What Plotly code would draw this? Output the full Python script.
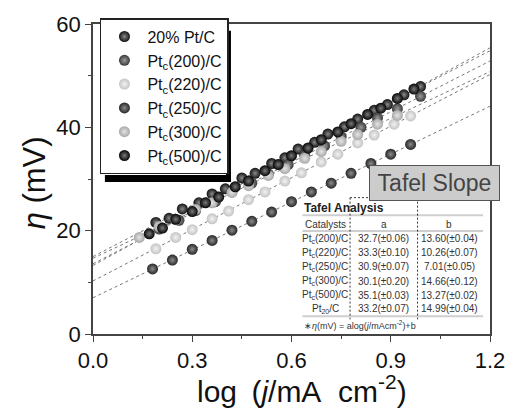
import plotly.graph_objects as go

# ---- measured overpotential vs log current density ----
x_pt20 = [0.19, 0.23, 0.27, 0.32, 0.36, 0.40, 0.45, 0.49, 0.54, 0.58, 0.62, 0.67, 0.71, 0.76, 0.80, 0.85, 0.89, 0.94, 0.99]
y_pt20 = [21.6, 22.4, 24.2, 25.4, 27.1, 28.1, 30.2, 31.1, 33.0, 34.1, 35.8, 37.1, 38.7, 40.1, 41.6, 43.3, 44.4, 46.3, 47.9]

x_200 = [0.20, 0.26, 0.31, 0.37, 0.42, 0.48, 0.53, 0.59, 0.64, 0.70, 0.75, 0.81, 0.86, 0.92, 0.99]
y_200 = [20.3, 22.0, 23.9, 25.6, 27.5, 29.2, 31.0, 32.8, 34.6, 36.4, 38.2, 40.0, 41.8, 43.6, 46.0]

x_220 = [0.19, 0.25, 0.30, 0.36, 0.41, 0.47, 0.52, 0.58, 0.63, 0.69, 0.74, 0.80, 0.85, 0.91, 0.96]
y_220 = [16.5, 18.7, 20.2, 22.3, 23.8, 26.0, 27.5, 29.6, 31.2, 33.3, 34.8, 37.0, 38.5, 40.6, 42.2]

x_250 = [0.18, 0.24, 0.30, 0.36, 0.42, 0.48, 0.54, 0.60, 0.66, 0.72, 0.78, 0.84, 0.90, 0.96]
y_250 = [12.6, 14.3, 16.4, 18.1, 20.1, 21.8, 23.6, 25.6, 27.5, 29.2, 31.1, 33.0, 34.8, 36.7]

x_300 = [0.14, 0.20, 0.25, 0.31, 0.36, 0.42, 0.47, 0.53, 0.58, 0.64, 0.69, 0.75, 0.80, 0.86, 0.92]
y_300 = [18.7, 20.8, 22.1, 24.1, 25.4, 27.4, 28.7, 30.7, 32.0, 34.0, 35.3, 37.3, 38.6, 40.6, 42.3]

x_500 = [0.17, 0.21, 0.25, 0.30, 0.34, 0.38, 0.43, 0.47, 0.52, 0.56, 0.60, 0.65, 0.69, 0.74, 0.78, 0.83, 0.87, 0.92, 0.97]
y_500 = [19.4, 20.5, 22.2, 23.7, 25.4, 26.5, 28.5, 29.6, 31.6, 32.8, 34.5, 36.0, 37.6, 39.1, 40.7, 42.5, 43.7, 45.6, 47.4]

# ---- Tafel fit parameters: eta = a*log(j) + b ----
table_names = ["Pt<sub>c</sub>(200)/C", "Pt<sub>c</sub>(220)/C", "Pt<sub>c</sub>(250)/C",
               "Pt<sub>c</sub>(300)/C", "Pt<sub>c</sub>(500)/C", "Pt<sub>20</sub>/C"]
fit_a = [32.7, 33.3, 30.9, 30.1, 35.1, 33.2]
fit_a_err = [0.06, 0.10, 0.07, 0.20, 0.03, 0.07]
fit_b = [13.60, 10.26, 7.01, 14.66, 13.27, 14.99]
fit_b_err = [0.04, 0.07, 0.05, 0.12, 0.02, 0.04]
fit_range = [0.0, 1.2]

x_ticks = [0.0, 0.3, 0.6, 0.9, 1.2]
y_ticks = [0, 20, 40, 60]

FONT = "Liberation Sans, Arial, sans-serif"
W, H = 517, 409
ML, MR, MT, MB = 93, 24, 18, 75
PW, PH = W - ML - MR, H - MT - MB


def px(xp):
    return (xp - ML) / PW


def py(yp):
    return (H - MB - yp) / PH


fig = go.Figure()

# dashed fit lines, drawn from the tabulated a and b
for a, b in zip(fit_a, fit_b):
    fig.add_trace(go.Scatter(
        x=fit_range, y=[a * fit_range[0] + b, a * fit_range[1] + b],
        mode="lines", line=dict(color="#777", width=1, dash="3px,3px"),
        showlegend=False, hoverinfo="skip"))

series = [
    ("20% Pt/C", x_pt20, y_pt20, "#111111", "#8a8a8a"),
    ("Pt<sub>c</sub>(200)/C", x_200, y_200, "#3a3a3a", "#9a9a9a"),
    ("Pt<sub>c</sub>(220)/C", x_220, y_220, "#c4c4c4", "#f2f2f2"),
    ("Pt<sub>c</sub>(250)/C", x_250, y_250, "#262626", "#8c8c8c"),
    ("Pt<sub>c</sub>(300)/C", x_300, y_300, "#a8a8a8", "#e4e4e4"),
    ("Pt<sub>c</sub>(500)/C", x_500, y_500, "#050505", "#7a7a7a"),
]
for name, xs, ys, edge, centre in series:
    fig.add_trace(go.Scatter(
        x=xs, y=ys, mode="markers", name=name,
        marker=dict(size=11, color=edge, line=dict(width=0),
                    gradient=dict(type="radial", color=centre))))

shapes = []
annotations = []

# legend drop shadow
shapes.append(dict(type="rect", xref="paper", yref="paper", layer="below",
                   x0=px(105), x1=px(232), y0=py(179), y1=py(172),
                   fillcolor="#000", line=dict(width=0)))
shapes.append(dict(type="rect", xref="paper", yref="paper", layer="below",
                   x0=px(227), x1=px(232), y0=py(179), y1=py(25),
                   fillcolor="#000", line=dict(width=0)))

# table background
shapes.append(dict(type="rect", xref="paper", yref="paper", layer="above",
                   x0=px(302), x1=px(492), y0=py(332), y1=py(197),
                   fillcolor="white", line=dict(width=0)))

# table rules
for yy in (213, 229, 316):
    shapes.append(dict(type="line", xref="paper", yref="paper", layer="above",
                       x0=px(304), x1=px(486), y0=py(yy), y1=py(yy),
                       line=dict(color="#cfcfcf", width=2)))
# dashed column separators
for xx in (352, 420):
    shapes.append(dict(type="line", xref="paper", yref="paper", layer="above",
                       x0=px(xx), x1=px(xx), y0=py(195), y1=py(319),
                       line=dict(color="#333", width=1, dash="2px,2px")))
shapes.append(dict(type="line", xref="paper", yref="paper", layer="above",
                   x0=px(352), x1=px(372), y0=py(195), y1=py(195),
                   line=dict(color="#333", width=1, dash="2px,2px")))

# "Tafel Slope" label box
annotations.append(dict(
    xref="paper", yref="paper", x=px(503), y=py(180),
    text="Tafel Slope", showarrow=False, xanchor="right", yanchor="middle",
    width=127, height=32, bgcolor="#cccccc", bordercolor="#555", borderwidth=1,
    font=dict(family=FONT, size=23, color="#444")))

# table text
annotations.append(dict(xref="paper", yref="paper", x=px(304), y=py(206),
                        text="<b>Tafel Analysis</b>", showarrow=False,
                        xanchor="left", yanchor="middle",
                        font=dict(family=FONT, size=12, color="#222")))
row_y = [236.7, 251, 265.7, 280, 294.3, 308.3]
col_x = [327, 386, 452]
small = dict(family=FONT, size=10, color="#333")
for cx, txt in zip(col_x, ["Catalysts", "a", "b"]):
    annotations.append(dict(xref="paper", yref="paper", x=px(cx), y=py(222.7),
                            text=txt, showarrow=False, xanchor="center",
                            yanchor="middle", font=small))
for i, yy in enumerate(row_y):
    cells = [table_names[i],
             f"{fit_a[i]:.1f}(±{fit_a_err[i]:.2f})",
             f"{fit_b[i]:.2f}(±{fit_b_err[i]:.2f})"]
    for cx, txt in zip(col_x, cells):
        annotations.append(dict(xref="paper", yref="paper", x=px(cx), y=py(yy),
                                text=txt, showarrow=False, xanchor="center",
                                yanchor="middle", font=small))
annotations.append(dict(xref="paper", yref="paper", x=px(304), y=py(325),
                        text="∗<i>η</i>(mV) = alog(<i>j</i>/mAcm<sup>-2</sup>)+b",
                        showarrow=False, xanchor="left", yanchor="middle",
                        font=dict(family=FONT, size=9, color="#333")))

# axis titles
annotations.append(dict(xref="paper", yref="paper", x=px(304), y=py(390.5),
                        text="log\u2009 (<i>j</i>/mA\u00a0 cm<sup>-2</sup>)",
                        showarrow=False, xanchor="center", yanchor="middle",
                        font=dict(family=FONT, size=30, color="#111")))
annotations.append(dict(xref="paper", yref="paper", x=px(34), y=py(180),
                        text="<i>η</i> (mV)", textangle=-90,
                        showarrow=False, xanchor="center", yanchor="middle",
                        font=dict(family=FONT, size=31, color="#111")))

axis_common = dict(showline=True, linecolor="#444", linewidth=1.5, mirror=True,
                   ticks="outside", ticklen=6, tickwidth=1.2, tickcolor="#444",
                   showgrid=False, zeroline=False,
                   tickfont=dict(family=FONT, size=22, color="#111"))

fig.update_layout(
    width=W, height=H,
    margin=dict(l=ML, r=MR, t=MT, b=MB),
    paper_bgcolor="white", plot_bgcolor="white",
    showlegend=True,
    legend=dict(x=px(100), y=py(12), xanchor="left", yanchor="top",
                bgcolor="white", bordercolor="#222", borderwidth=1.5,
                font=dict(family=FONT, size=16, color="#111"),
                tracegroupgap=0, itemwidth=36),
    xaxis=dict(range=[0, 1.2], tickvals=x_ticks,
               ticktext=[f"{v:.1f}" for v in x_ticks],
               minor=dict(dtick=0.15, ticks="outside", ticklen=3, tickcolor="#444"),
               **axis_common),
    yaxis=dict(range=[0, 60], tickvals=y_ticks,
               minor=dict(dtick=10, ticks="outside", ticklen=3, tickcolor="#444"),
               **axis_common),
    shapes=shapes,
    annotations=annotations,
)

fig.write_html("out.html")
